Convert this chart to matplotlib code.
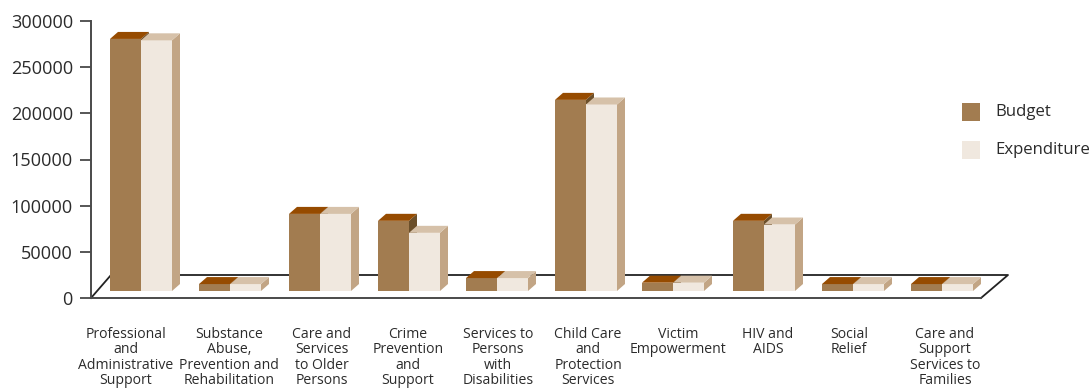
import matplotlib
matplotlib.use("Agg")
import matplotlib.pyplot as plt
from matplotlib.patches import Polygon, Rectangle

categories = ["Professional\nand\nAdministrative\nSupport", "Substance\nAbuse,\nPrevention and\nRehabilitation",
              "Care and\nServices\nto Older\nPersons", "Crime\nPrevention\nand\nSupport",
              "Services to\nPersons\nwith\nDisabilities", "Child Care\nand\nProtection\nServices",
              "Victim\nEmpowerment", "HIV and\nAIDS", "Social\nRelief", "Care and\nSupport\nServices to\nFamilies"]
budget = [273000, 7500, 83500, 76000, 14000, 207000, 9000, 76000, 7500, 7500]
expenditure = [271500, 7500, 83500, 63000, 14000, 202000, 9000, 72000, 7500, 7500]
yticks = [0, 50000, 100000, 150000, 200000, 250000, 300000]

# layout nudges in pixels, per category
label_nudge = [-9.5, 4.5, 8.5, 5.5, 6.5, 7.5, 8.5, 9.5, 1.5, 8.5]
group_nudge = [0, 0, 1, 1, 0, 0, -2, 0, 0, 0]

W, H = 1092, 388
plt.rcParams['font.family'] = ['Open Sans', 'DejaVu Sans']
fig = plt.figure(figsize=(W/100, H/100), dpi=100)
L, R, T, B = 91, 981, 21, 298
ax = fig.add_axes([L/W, 1-B/H, (R-L)/W, (B-T)/H])
ax.set_xlim(0, 10)
ax.set_ylim(0, 300000)
pxx = 10/(R-L)
pxy = 300000/(B-T)
base = 7*pxy
dx, dy = 8*pxx, 7*pxy
bw = 31*pxx
shift = 5.5*pxx

for s in ['top', 'right']:
    ax.spines[s].set_visible(False)
for s in ['left', 'bottom']:
    ax.spines[s].set_color('#4a4a4a')
    ax.spines[s].set_linewidth(1.4)
ax.set_yticks(yticks)
ax.set_xticks([])
ax.tick_params(axis='y', length=8, width=1.2, color='#3a3a3a', labelsize=13.1, labelcolor='#2b2b2b', pad=5)
# floor outline
fx = [0, 20*pxx, (1008-L)*pxx, (981-L)*pxx]
fy = [0, 23*pxy, 23*pxy, 0]
ax.plot(fx, fy, color='#222222', lw=1.3, clip_on=False, zorder=1)

def bar3d(x0, v, front, top, side):
    ax.bar(x0, v, bw, bottom=base, align='edge', color=front, zorder=3)
    y1 = base+v
    ax.add_patch(Polygon([(x0, y1), (x0+dx, y1+dy), (x0+bw+dx, y1+dy), (x0+bw, y1)], fc=top, ec='none', zorder=3, clip_on=False))
    ax.add_patch(Polygon([(x0+bw, base), (x0+bw+dx, base+dy), (x0+bw+dx, y1+dy), (x0+bw, y1)], fc=side, ec='none', zorder=2.5, clip_on=False))

for i, (b, e) in enumerate(zip(budget, expenditure)):
    c = i+0.5+shift+group_nudge[i]*pxx
    bar3d(c, e, '#F0E8DF', '#D6C1A9', '#C2A585')
    bar3d(c-bw, b, '#A27C50', '#964B00', '#6B4F2A')
    ax.text(i+0.5+label_nudge[i]*pxx, -29*pxy, categories[i], ha='center', va='top', fontsize=10.1,
            color='#2b2b2b', linespacing=1.03, clip_on=False)

for y, col, lab in [(112, '#A27C50', 'Budget'), (150, '#F0E8DF', 'Expenditure')]:
    fig.add_artist(Rectangle((962/W, 1-(y+9)/H), 18/W, 18/H, fc=col, ec='none', transform=fig.transFigure))
    fig.text(995/W, 1-y/H, lab, ha='left', va='center', fontsize=12.1, color='#2b2b2b')
fig.savefig('out.png', dpi=100)
